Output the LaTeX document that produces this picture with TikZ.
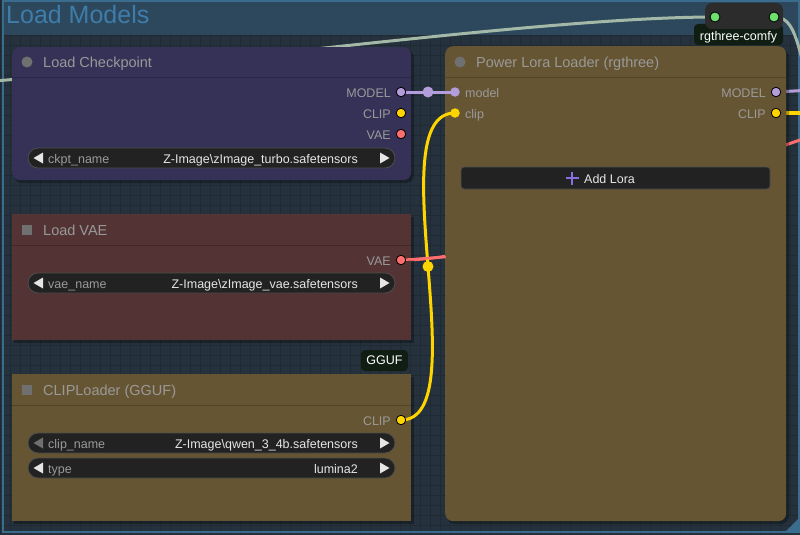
\documentclass[tikz,border=0pt]{standalone}
\usepackage{fontspec}
\setmainfont{Liberation Sans}
\definecolor{bgc}{HTML}{25313C}
\definecolor{gridc}{HTML}{1F2A33}
\definecolor{grpbody}{HTML}{26333E}
\definecolor{grpband}{HTML}{2E4B61}
\definecolor{grpline}{HTML}{3A6C8E}
\definecolor{grptitle}{HTML}{3E7DAA}
\definecolor{ckptc}{HTML}{353157}
\definecolor{ckptsep}{HTML}{2A2746}
\definecolor{vaec}{HTML}{533333}
\definecolor{vaesep}{HTML}{432828}
\definecolor{brownc}{HTML}{665533}
\definecolor{brownsep}{HTML}{524428}
\definecolor{ttlgray}{HTML}{999999}
\definecolor{lblgray}{HTML}{9A9A9A}
\definecolor{icongray}{HTML}{707070}
\definecolor{widfill}{HTML}{222222}
\definecolor{widline}{HTML}{4E4E4E}
\definecolor{valc}{HTML}{E6E6E6}
\definecolor{modelc}{HTML}{B39DDB}
\definecolor{clipc}{HTML}{FFD500}
\definecolor{vaecl}{HTML}{FF6E6E}
\definecolor{sagec}{HTML}{A3B8A6}
\definecolor{greenc}{HTML}{6EE06E}
\definecolor{badgec}{HTML}{0F1D12}
\definecolor{reroutec}{HTML}{2C2C2C}
\definecolor{plusc}{HTML}{8A6FE0}
\tikzset{
  nodebox/.style={anchor=north west, inner sep=0pt, draw=none},
  ttl/.style={font=\fontsize{14.5}{16}\selectfont, text=ttlgray, inner sep=0pt, anchor=mid west, yshift=-2.5pt},
  lbl/.style={font=\fontsize{12.5}{14}\selectfont, text=lblgray, inner sep=0pt, yshift=-3pt},
  val/.style={font=\fontsize{12.5}{14}\selectfont, text=valc, inner sep=0pt, anchor=mid east, yshift=-3pt},
  wid/.style={draw=widline, fill=widfill, rounded corners=10pt, minimum height=20pt, minimum width=367pt, inner sep=0pt, line width=0.8pt},
  slotdot/.style={circle, fill=#1, draw=black, line width=0.8pt, minimum size=9.5pt, inner sep=0pt},
  middot/.style={circle, fill=#1, draw=none, minimum size=11pt, inner sep=0pt},
  link/.style={line width=3pt, draw=#1, line cap=round},
  badge/.style={fill=badgec, rounded corners=4pt, text=white, font=\fontsize{12.5}{14}\selectfont, inner sep=0pt},
  shadow/.style={fill=black, opacity=0.3}
}
\begin{document}
\begin{tikzpicture}[x=1pt,y=-1pt]
\useasboundingbox (0,0) rectangle (800,535);
\clip (0,0) rectangle (800,535);
% background and grid
\fill[bgc] (0,0) rectangle (800,535);
\foreach \gx in {0,10,...,800} \draw[gridc, line width=0.7pt] (\gx,0) -- (\gx,535);
\foreach \gy in {5,15,...,535} \draw[gridc, line width=0.7pt] (0,\gy) -- (800,\gy);
% group
\fill[grpband, opacity=0.9] (3,1) rectangle (799,35);
\draw[grpline, line width=1.2pt] (3,1) rectangle (799,532);
\fill[grpline] (785,532) -- (799,532) -- (799,518) -- cycle;
\node[font=\fontsize{25}{27}\selectfont, text=grptitle, inner sep=0pt, anchor=mid west, yshift=-4pt] (grpT) at (6,17) {Load Models};

% slot coordinates
\coordinate (ckptMo) at (401,92);
\coordinate (ckptCl) at (401,113);
\coordinate (ckptVa) at (401,134);
\coordinate (vaeVa) at (401,260);
\coordinate (clipCl) at (401,420);
\coordinate (loraMi) at (455,92);
\coordinate (loraCi) at (455,113);
\coordinate (loraMo) at (776,92);
\coordinate (loraCo) at (776,113);
\coordinate (rrIn) at (715,17);
\coordinate (rrOut) at (774,17);
\coordinate (offL) at (-150,88);
\coordinate (offR1) at (812,90);
\coordinate (offR2) at (812,113);
\coordinate (offR3) at (980,100);
\coordinate (offR4) at (806,75);

% links behind nodes
\draw[link=sagec] (offL) .. controls +(205,0) and +(-205,0) .. (rrIn);
\draw[link=sagec] (rrOut) .. controls (792,17) and (796,35) .. (offR4);
\draw[link=vaecl] (vaeVa) .. controls +(154,0) and +(-154,0) .. (offR3);
\draw[link=modelc] (loraMo) -- (offR1);
\draw[line width=4pt, clipc] (loraCo) -- (offR2);

% Load Checkpoint
\fill[shadow, rounded corners=8pt] (14,50) rectangle (414,183);
\node[nodebox, fill=ckptc, rounded corners=8pt, minimum width=399pt, minimum height=133pt] (ckpt) at (12,47) {};
\draw[ckptsep, line width=1.5pt] (12,77.5) -- (411,77.5);
\fill[icongray] (27,62) circle (5.5);
\node[ttl] (ckptT) at (43,62) {Load Checkpoint};
\node[lbl, anchor=mid east] (ckptMoL) at (391,92) {MODEL};
\node[lbl, anchor=mid east] (ckptClL) at (391,113) {CLIP};
\node[lbl, anchor=mid east] (ckptVaL) at (391,134) {VAE};
\node[wid] (ckptW) at (211.5,158) {};
\fill[valc] (43,152.5) -- (43,163.5) -- (33.5,158) -- cycle;
\fill[valc] (380,152.5) -- (380,163.5) -- (389.5,158) -- cycle;
\node[lbl, anchor=mid west] (ckptWL) at (48,158) {ckpt\_name};
\node[val] (ckptWV) at (358,158) {Z-Image\textbackslash zImage\_turbo.safetensors};

% Load VAE
\fill[shadow] (14,217) rectangle (414,343);
\node[nodebox, fill=vaec, minimum width=399pt, minimum height=126pt] (vae) at (12,214) {};
\draw[vaesep, line width=1.5pt] (12,245.5) -- (411,245.5);
\fill[icongray] (22,225) rectangle (32,235);
\node[ttl] (vaeT) at (43,230) {Load VAE};
\node[lbl, anchor=mid east] (vaeVaL) at (391,260) {VAE};
\node[wid] (vaeW) at (211.5,283) {};
\fill[valc] (43,277.5) -- (43,288.5) -- (33.5,283) -- cycle;
\fill[valc] (380,277.5) -- (380,288.5) -- (389.5,283) -- cycle;
\node[lbl, anchor=mid west] (vaeWL) at (48,283) {vae\_name};
\node[val] (vaeWV) at (358,283) {Z-Image\textbackslash zImage\_vae.safetensors};

% GGUF badge
\node[badge, minimum width=47pt, minimum height=21pt] (gguf) at (384.5,360.5) {GGUF};

% CLIPLoader (GGUF)
\fill[shadow] (14,377) rectangle (414,524);
\node[nodebox, fill=brownc, minimum width=399pt, minimum height=147pt] (clipL) at (12,374) {};
\draw[brownsep, line width=1.5pt] (12,405.5) -- (411,405.5);
\fill[icongray] (22,385) rectangle (32,395);
\node[ttl] (clipT) at (43,390) {CLIPLoader (GGUF)};
\node[lbl, anchor=mid east] (clipClL) at (391,420) {CLIP};
\node[wid] (clipW1) at (211.5,443) {};
\fill[icongray] (43,437.5) -- (43,448.5) -- (33.5,443) -- cycle;
\fill[valc] (380,437.5) -- (380,448.5) -- (389.5,443) -- cycle;
\node[lbl, anchor=mid west] (clipW1L) at (48,443) {clip\_name};
\node[val] (clipW1V) at (358,443) {Z-Image\textbackslash qwen\_3\_4b.safetensors};
\node[wid] (clipW2) at (211.5,468) {};
\fill[valc] (43,462.5) -- (43,473.5) -- (33.5,468) -- cycle;
\fill[valc] (380,462.5) -- (380,473.5) -- (389.5,468) -- cycle;
\node[lbl, anchor=mid west] (clipW2L) at (48,468) {type};
\node[val] (clipW2V) at (358,468) {lumina2};

% Power Lora Loader
\fill[shadow, rounded corners=8pt] (447,49) rectangle (789,524);
\node[nodebox, fill=brownc, rounded corners=8pt, minimum width=341pt, minimum height=475pt] (lora) at (445,46) {};
\draw[brownsep, line width=1.5pt] (445,77.5) -- (786,77.5);
\fill[icongray] (460,62) circle (5.5);
\node[ttl] (loraT) at (476,62) {Power Lora Loader (rgthree)};
\node[lbl, anchor=mid west] (loraMiL) at (465,92) {model};
\node[lbl, anchor=mid west] (loraCiL) at (465,113) {clip};
\node[lbl, anchor=mid east] (loraMoL) at (766,92) {MODEL};
\node[lbl, anchor=mid east] (loraCoL) at (766,113) {CLIP};
\node[draw=widline, fill=widfill, rounded corners=3pt, line width=0.8pt, minimum width=309pt, minimum height=22pt, inner sep=0pt] (addLora) at (615.5,178) {};
\fill[plusc] (565.5,176.8) rectangle (578.5,179.2);
\fill[plusc] (570.8,171.5) rectangle (573.2,184.5);
\node[lbl, text=valc, anchor=mid west] (addLoraT) at (584,178) {Add Lora};

% links between nodes (visible)
\draw[link=modelc] (ckptMo) -- (loraMi) node[pos=0.5, middot=modelc] (mMid) {};
\draw[link=clipc] (clipCl) .. controls +(78,0) and +(-78,0) .. (loraCi) node[pos=0.5, middot=clipc] (cMid) {};
\draw[link=vaecl, line width=2.5pt] (vaeVa) -- (445,257);

% slot dots
\node[slotdot=modelc] (d1) at (ckptMo) {};
\node[slotdot=clipc] (d2) at (ckptCl) {};
\node[slotdot=vaecl] (d3) at (ckptVa) {};
\node[slotdot=vaecl] (d4) at (vaeVa) {};
\node[slotdot=clipc] (d5) at (clipCl) {};
\node[slotdot=modelc, draw=none] (d6) at (loraMi) {};
\node[slotdot=clipc, draw=none] (d7) at (loraCi) {};
\node[slotdot=modelc] (d8) at (loraMo) {};
\node[slotdot=clipc] (d9) at (loraCo) {};

% rgthree reroute
\node[badge, minimum width=89pt, minimum height=21pt] (rrBadge) at (738.5,34.5) {};
\node[font=\fontsize{12.5}{14}\selectfont, text=white, inner sep=0pt, anchor=mid, yshift=-3.5pt] (rrBadgeT) at (738.5,34.5) {rgthree-comfy};
\fill[reroutec, rounded corners=7pt] (705,3) rectangle (783,29);
\node[slotdot=greenc, minimum size=10pt] (rr1) at (rrIn) {};
\node[slotdot=greenc, minimum size=10pt] (rr2) at (rrOut) {};
\end{tikzpicture}
\end{document}
